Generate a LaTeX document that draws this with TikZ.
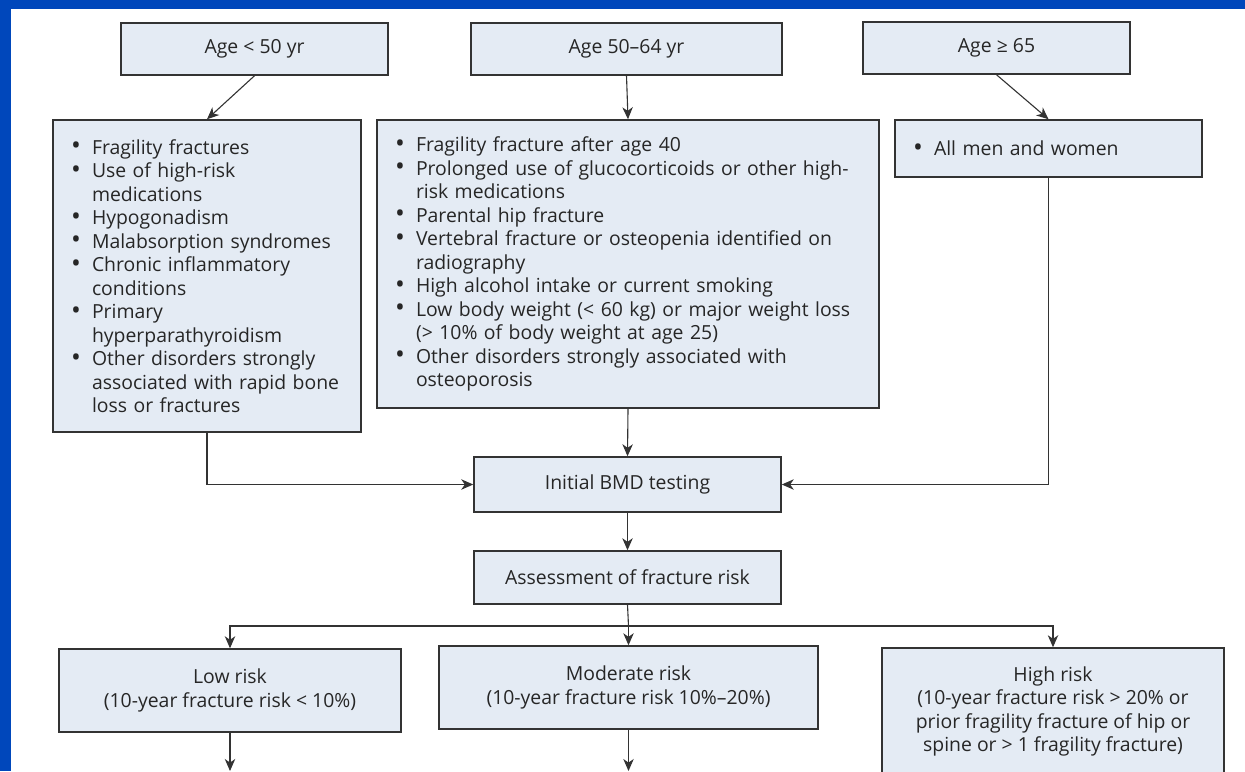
\documentclass[tikz,border=0pt]{standalone}
\usepackage{fontspec}
\setmainfont{Open Sans}
\usetikzlibrary{arrows.meta}
\definecolor{boxfill}{HTML}{E4EBF4}
\definecolor{boxline}{HTML}{333333}
\definecolor{slideblue}{HTML}{0047BB}
\definecolor{txt}{HTML}{262626}
\newcommand{\bul}{\makebox[10.5pt][l]{\raisebox{-0.3pt}{\scalebox{1.35}{\textbullet}}}}
\newcommand{\cont}{\hspace*{10.5pt}}
\begin{document}
\begin{tikzpicture}[x=0.5pt,y=-0.5pt,
    >={Stealth[length=6pt,width=5.2pt,inset=1.8pt]},
    flowbox/.style={draw=boxline,line width=0.75pt,fill=boxfill,text=txt,inner sep=0pt,
      align=center,font=\fontsize{9.7pt}{11.75pt}\selectfont},
    listbox/.style={flowbox,align=left,inner xsep=9pt},
    link/.style={draw=boxline,line width=0.55pt}]
    \useasboundingbox (0,0) rectangle (1245,771);
    \clip (0,0) rectangle (1245,771);
    \fill[white] (0,0) rectangle (1245,771);
    \fill[slideblue] (0,0) rectangle (1245,9);
    \fill[slideblue] (0,0) rectangle (11,771);

    \node[flowbox,minimum width=133.5pt,minimum height=26pt] (ageyoung) at (254.5,49) {Age < 50 yr};
    \node[flowbox,minimum width=155.5pt,minimum height=26pt] (agemid) at (626.5,49) {Age 50--64 yr};
    \node[flowbox,minimum width=133.5pt,minimum height=26pt] (ageold) at (996.5,48) {Age ≥ 65};

    \node[listbox,text width=136pt,minimum height=156pt] (youngrisks) at (207,276) {%
      \bul Fragility fractures\\
      \bul Use of high-risk\\
      \cont medications\\
      \bul Hypogonadism\\
      \bul Malabsorption syndromes\\
      \bul Chronic inflammatory\\
      \cont conditions\\
      \bul Primary\\
      \cont hyperparathyroidism\\
      \bul Other disorders strongly\\
      \cont associated with rapid bone\\
      \cont loss or fractures};
    \node[listbox,text width=233pt,minimum height=144pt] (midrisks) at (628,264) {%
      \bul Fragility fracture after age 40\\
      \bul Prolonged use of glucocorticoids or other high-\\
      \cont risk medications\\
      \bul Parental hip fracture\\
      \bul Vertebral fracture or osteopenia identified on\\
      \cont radiography\\
      \bul High alcohol intake or current smoking\\
      \bul Low body weight (< 60 kg) or major weight loss\\
      \cont (> 10\% of body weight at age 25)\\
      \bul Other disorders strongly associated with\\
      \cont osteoporosis};
    \node[listbox,text width=135.5pt,minimum height=28.5pt] (allpeople) at (1048.5,148.5) {\bul All men and women};

    \node[flowbox,minimum width=153.5pt,minimum height=27.5pt] (bmd) at (627.5,484.5) {Initial BMD testing};
    \node[flowbox,minimum width=153.5pt,minimum height=26.5pt] (assess) at (627.5,577.5) {Assessment of fracture risk};

    \node[flowbox,minimum width=171pt,minimum height=41.5pt] (lowrisk) at (230,690.5)
      {Low risk\\(10-year fracture risk < 10\%)};
    \node[flowbox,minimum width=189.5pt,minimum height=41.5pt] (modrisk) at (628.5,687.5)
      {Moderate risk\\(10-year fracture risk 10\%--20\%)};
    \node[flowbox,minimum width=171pt,minimum height=63.5pt] (highrisk) at (1053,711.5)
      {High risk\\(10-year fracture risk > 20\% or\\prior fragility fracture of hip or\\spine or > 1 fragility fracture)};

    \draw[link,->] (ageyoung.south) -- (youngrisks.north);
    \draw[link,->] (agemid.south) -- (midrisks.north);
    \draw[link,->] (ageold.south) -- (allpeople.north);
    \draw[link,->] (youngrisks.south) |- (bmd.west);
    \draw[link,->] (midrisks.south) -- (bmd.north);
    \draw[link,->] (allpeople.south) |- (bmd.east);
    \draw[link,->] (bmd.south) -- (assess.north);

    \coordinate (split) at (628.5,626);
    \draw[link] (assess.south) -- (split);
    \draw[link,->] (split) -| (lowrisk.north);
    \draw[link,->] (split) -- (modrisk.north);
    \draw[link,->] (split) -| (highrisk.north);

    \coordinate (lowout) at (230,771);
    \coordinate (modout) at (628.5,771);
    \draw[link,->] (lowrisk.south) -- (lowout);
    \draw[link,->] (modrisk.south) -- (modout);
\end{tikzpicture}
\end{document}
